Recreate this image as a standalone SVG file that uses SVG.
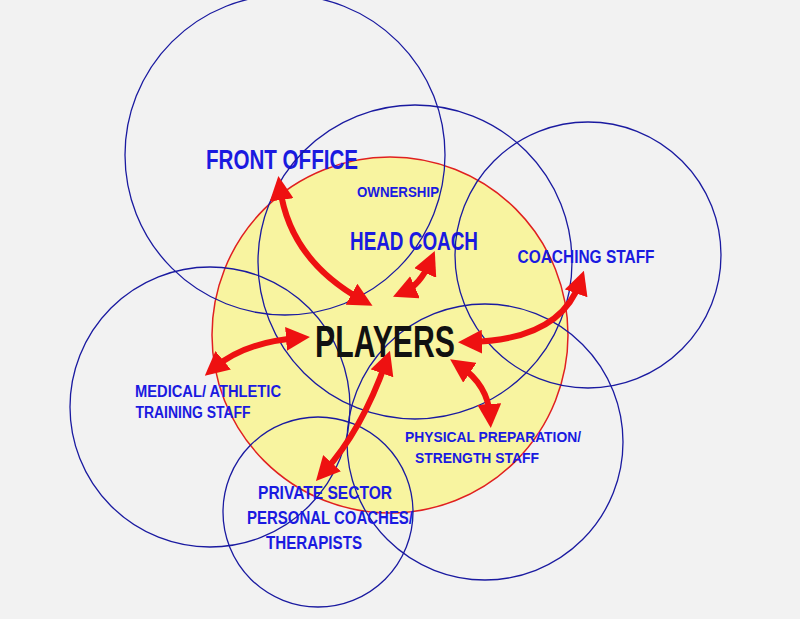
<svg xmlns="http://www.w3.org/2000/svg" width="800" height="619" viewBox="0 0 800 619">
<style>
.c{fill:none;stroke:#1a1aa0;stroke-width:1.3}
.t{font-family:"Liberation Sans",Arial,sans-serif;font-weight:bold;fill:#1a1ae0;text-anchor:middle}
.a{fill:none;stroke:#ee1111;stroke-width:6;marker-start:url(#h);marker-end:url(#h)}
</style>
<defs><marker id="h" viewBox="0 0 10 10" refX="5" refY="5" markerWidth="4" markerHeight="4" orient="auto-start-reverse"><path d="M0,0L10,5L0,10z" fill="#ee1111"/></marker></defs>
<rect width="800" height="619" fill="#f2f2f2"/>
<g id="core"><circle cx="390" cy="335" r="178" fill="#f8f4a0" stroke="#e02020" stroke-width="1.5"/></g>
<g id="front-office"><circle class="c" cx="285" cy="155" r="160"/><text class="t" x="282" y="169" font-size="27" textLength="152" lengthAdjust="spacingAndGlyphs">FRONT OFFICE</text></g>
<g id="ownership"><circle class="c" cx="415" cy="262" r="157"/><text class="t" x="398" y="197" font-size="14" textLength="82" lengthAdjust="spacingAndGlyphs">OWNERSHIP</text><text class="t" x="414" y="250" font-size="25" textLength="128" lengthAdjust="spacingAndGlyphs">HEAD COACH</text></g>
<g id="coaching-staff"><circle class="c" cx="588" cy="255" r="133"/><text class="t" x="586" y="263" font-size="18" textLength="137" lengthAdjust="spacingAndGlyphs">COACHING STAFF</text></g>
<g id="medical"><circle class="c" cx="210" cy="407" r="140"/><text class="t" x="208" y="397" font-size="16" textLength="146" lengthAdjust="spacingAndGlyphs">MEDICAL/  ATHLETIC</text><text class="t" x="193" y="418" font-size="16" textLength="115" lengthAdjust="spacingAndGlyphs">TRAINING  STAFF</text></g>
<g id="physical"><circle class="c" cx="485" cy="442" r="138"/><text class="t" x="493" y="442" font-size="15" textLength="176" lengthAdjust="spacingAndGlyphs">PHYSICAL PREPARATION/</text><text class="t" x="477" y="463" font-size="15" textLength="124" lengthAdjust="spacingAndGlyphs">STRENGTH STAFF</text></g>
<g id="private"><circle class="c" cx="318" cy="512" r="95"/><text class="t" x="325" y="499" font-size="18" textLength="134" lengthAdjust="spacingAndGlyphs">PRIVATE SECTOR</text><text class="t" x="330" y="524" font-size="18" textLength="166" lengthAdjust="spacingAndGlyphs">PERSONAL COACHES/</text><text class="t" x="314" y="549" font-size="18" textLength="96" lengthAdjust="spacingAndGlyphs">THERAPISTS</text></g>
<g id="players"><text x="385" y="357" font-family="Liberation Sans,Arial,sans-serif" font-weight="bold" font-size="44" text-anchor="middle" textLength="140" lengthAdjust="spacingAndGlyphs" fill="#111">PLAYERS</text></g>
<g id="connectors">
<path class="a" d="M280,188 Q290,260 362,300"/>
<path class="a" d="M430,262 Q420,285 404,292"/>
<path class="a" d="M580,282 Q560,340 470,342"/>
<path class="a" d="M214,368 Q245,342 298,338"/>
<path class="a" d="M460,366 Q488,385 490,416"/>
<path class="a" d="M386,362 Q362,430 324,472"/>
</g>
</svg>
